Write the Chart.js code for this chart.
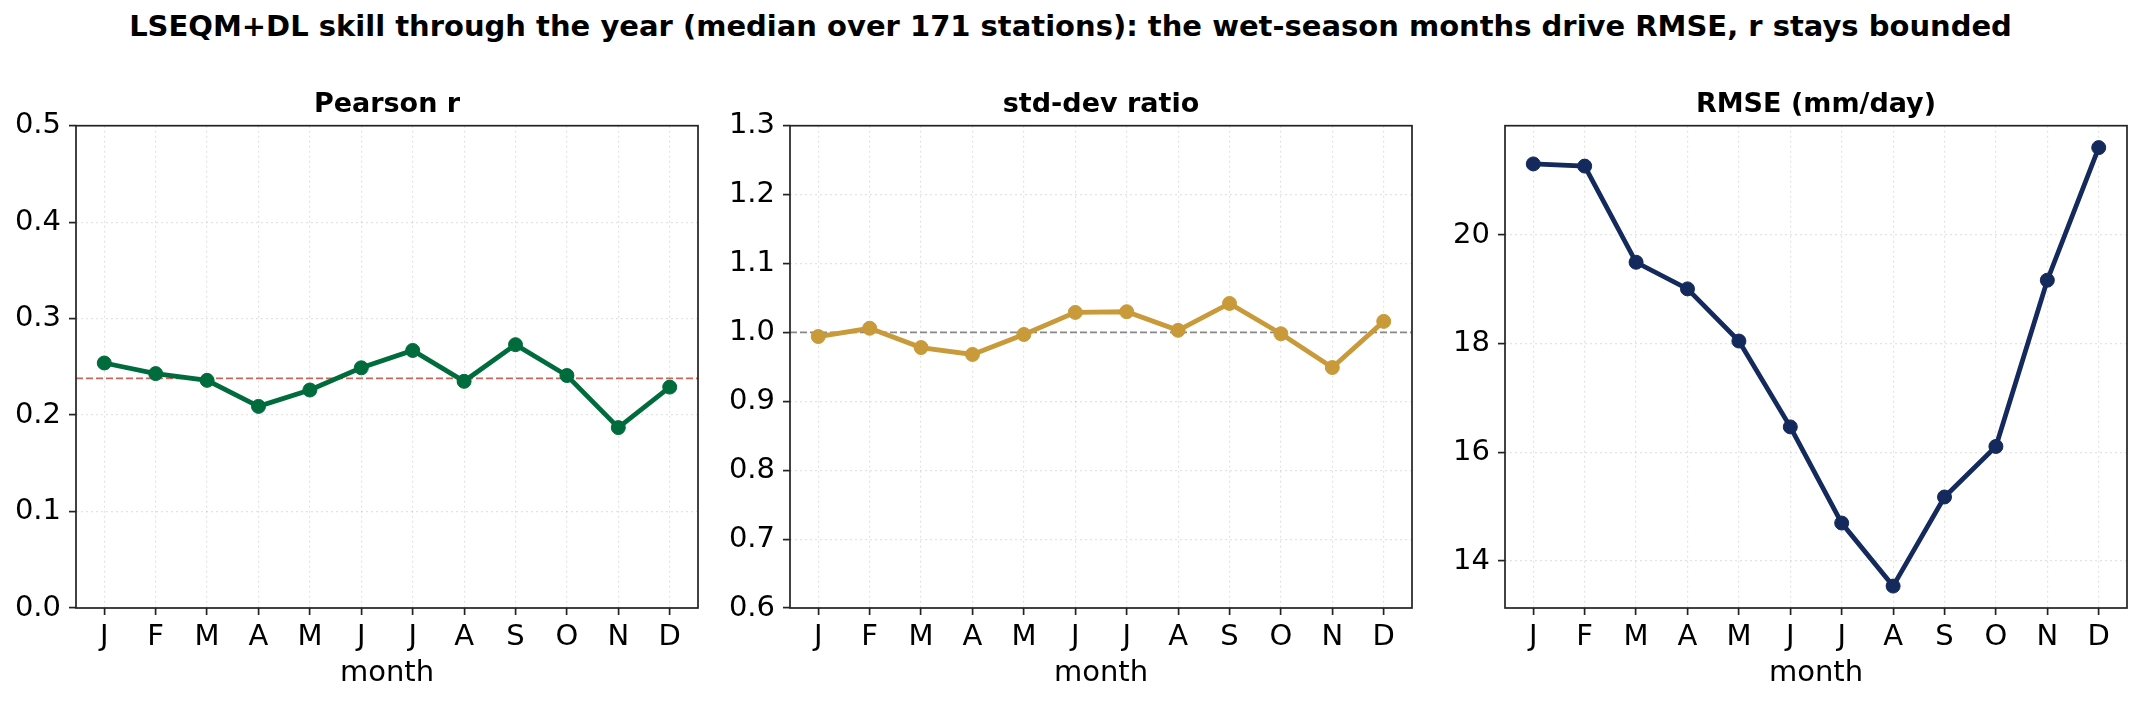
<!DOCTYPE html>
<html>
<head>
<meta charset="utf-8">
<script src="https://cdn.jsdelivr.net/npm/chart.js@4.4.1/dist/chart.umd.min.js"></script>
<style>
    html, body { margin: 0; padding: 0; background: #fff; }
    body { width: 2141px; height: 703px; position: relative; overflow: hidden; font-family: 'DejaVu Sans', sans-serif; }
    #suptitle { position: absolute; left: 0; top: 12px; width: 2141px; text-align: center; font-weight: bold; font-size: 29px; line-height: 29px; color: #000; white-space: nowrap; }
    canvas { position: absolute; top: 0; }
</style>
</head>
<body>
<div id="suptitle">LSEQM+DL skill through the year (median over 171 stations): the wet-season months drive RMSE, r stays bounded</div>
<canvas id="graph1" width="720" height="703" style="left:0px"></canvas>
<canvas id="graph2" width="720" height="703" style="left:714px"></canvas>
<canvas id="graph3" width="712" height="703" style="left:1429px"></canvas>
<script>
    // monthly medians over 171 stations
    var months = ['J', 'F', 'M', 'A', 'M', 'J', 'J', 'A', 'S', 'O', 'N', 'D'];
    var pearsonR = [0.254, 0.243, 0.236, 0.209, 0.226, 0.249, 0.267, 0.235, 0.273, 0.241, 0.187, 0.229];
    var stdRatio = [0.994, 1.006, 0.978, 0.968, 0.997, 1.029, 1.030, 1.003, 1.042, 0.998, 0.949, 1.016];
    var rmse = [21.31, 21.27, 19.50, 19.01, 18.05, 16.47, 14.70, 13.54, 15.18, 16.11, 19.17, 21.61];

    // reference lines
    var pearsonRef = 0.238;
    var ratioRef = 1.0;

    // tick labels
    var pearsonTicks = [0.0, 0.1, 0.2, 0.3, 0.4, 0.5];
    var ratioTicks = [0.6, 0.7, 0.8, 0.9, 1.0, 1.1, 1.2, 1.3];
    var rmseTicks = [14, 16, 18, 20];

    var FONT = "'DejaVu Sans', sans-serif";
    Chart.defaults.font.family = FONT;
    Chart.defaults.color = '#000';

function pad(lo, hi) {
    var m = (hi - lo) * 0.05;
    return [lo - m, hi + m];
}

// box round the plot, like the four spines
var framePlugin = {
    id: 'frame',
    afterDatasetsDraw: function(chart) {
        var a = chart.chartArea;
        var c = chart.ctx;
        c.save();
        c.strokeStyle = '#222';
        c.lineWidth = 1.7;
        c.strokeRect(a.left, a.top, a.right - a.left, a.bottom - a.top);
        c.restore();
    }
};

// horizontal dashed reference line across the whole axes
var refLinePlugin = {
    id: 'refLine',
    beforeDatasetsDraw: function(chart, args, opts) {
        if (opts.value === undefined || opts.value === null) return;
        var a = chart.chartArea;
        var y = chart.scales.y.getPixelForValue(opts.value);
        var c = chart.ctx;
        c.save();
        c.strokeStyle = opts.color;
        c.lineWidth = 1.8;
        c.setLineDash([7, 3]);
        c.beginPath();
        c.moveTo(a.left, y);
        c.lineTo(a.right, y);
        c.stroke();
        c.restore();
    }
};

function makePanel(canvasId, title, values, color, yLim, yTicks, decimals, refValue, refColor, rightPad) {
    var ctx = document.getElementById(canvasId).getContext('2d');
    var xLim = pad(0, months.length - 1);
    var points = values.map(function(v, i) { return {x: i, y: v}; });
    return new Chart(ctx, {
        type: 'line',
        data: {
            datasets: [{
                data: points,
                borderColor: color,
                backgroundColor: color,
                pointBackgroundColor: color,
                pointBorderColor: color,
                borderWidth: 4.8,
                pointRadius: 7,
                pointHoverRadius: 7,
                pointBorderWidth: 1,
                tension: 0,
                clip: false
            }]
        },
        plugins: [refLinePlugin, framePlugin],
        options: {
            responsive: false,
            animation: false,
            layout: {
                padding: {left: 0, right: rightPad, top: 88.8, bottom: 12.5}
            },
            plugins: {
                legend: {display: false},
                tooltip: {enabled: false},
                title: {
                    display: true,
                    text: title,
                    fullSize: false,
                    color: '#000',
                    font: {size: 27, weight: 'bold', family: FONT, lineHeight: 1.2},
                    padding: {top: 0, bottom: 4.5}
                },
                refLine: {value: refValue, color: refColor}
            },
            scales: {
                x: {
                    type: 'linear',
                    min: xLim[0],
                    max: xLim[1],
                    afterBuildTicks: function(axis) {
                        axis.ticks = months.map(function(m, i) { return {value: i}; });
                    },
                    afterFit: function(axis) { axis.height = 82.5; },
                    ticks: {
                        autoSkip: false,
                        maxRotation: 0,
                        padding: 5,
                        color: '#000',
                        font: {size: 29, family: FONT, lineHeight: 1.2},
                        callback: function(v) { return months[v]; }
                    },
                    grid: {
                        color: 'rgba(0,0,0,0.11)',
                        lineWidth: 1.2,
                        tickColor: '#222',
                        tickWidth: 1.7,
                        tickLength: 7
                    },
                    border: {display: false, dash: [2, 3]},
                    title: {
                        display: true,
                        text: 'month',
                        color: '#000',
                        font: {size: 29, family: FONT, lineHeight: 1.2},
                        padding: {top: 0, bottom: 0}
                    }
                },
                y: {
                    type: 'linear',
                    min: yLim[0],
                    max: yLim[1],
                    afterBuildTicks: function(axis) {
                        axis.ticks = yTicks.map(function(v) { return {value: v}; });
                    },
                    afterFit: function(axis) { axis.width = 76; },
                    ticks: {
                        padding: 8,
                        color: '#000',
                        font: {size: 29, family: FONT},
                        callback: function(v) { return v.toFixed(decimals); }
                    },
                    grid: {
                        color: 'rgba(0,0,0,0.11)',
                        lineWidth: 1.2,
                        tickColor: '#222',
                        tickWidth: 1.7,
                        tickLength: 7
                    },
                    border: {display: false, dash: [2, 3]}
                }
            }
        }
    });
}

window.onload = function() {
    window.pearsonChart = makePanel('graph1', 'Pearson r', pearsonR, '#006b3c',
        [0, 0.5], pearsonTicks, 1, pearsonRef, '#c8675e', 22);

    window.ratioChart = makePanel('graph2', 'std-dev ratio', stdRatio, '#c99a3a',
        [0.6, 1.3], ratioTicks, 1, ratioRef, '#888888', 22);

    var rmseLim = pad(Math.min.apply(null, rmse), Math.max.apply(null, rmse));
    window.rmseChart = makePanel('graph3', 'RMSE (mm/day)', rmse, '#142a5c',
        rmseLim, rmseTicks, 0, null, null, 14);
};
</script>
</body>
</html>
